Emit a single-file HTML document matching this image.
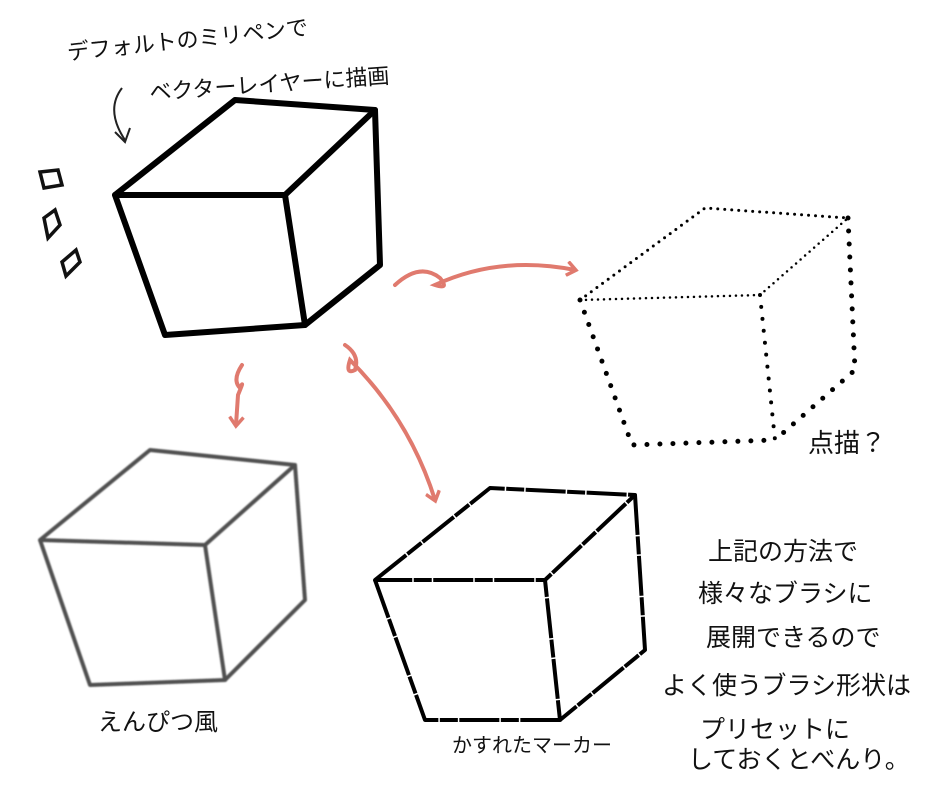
<!DOCTYPE html>
<html><head><meta charset="utf-8"><style>
html,body{margin:0;padding:0;background:#fff;}
svg{display:block;}
text{font-family:"Liberation Sans","Noto Sans CJK JP",sans-serif;fill:#111;}
</style></head><body>
<svg width="940" height="800" viewBox="0 0 940 800" xmlns="http://www.w3.org/2000/svg">
<defs>
<marker id="ah" markerWidth="16" markerHeight="16" refX="9" refY="8" orient="auto" markerUnits="userSpaceOnUse"><path d="M1,1 L10,8 L1,15" fill="none" stroke="#e07a6e" stroke-width="3.5"/></marker>
<filter id="soft"><feGaussianBlur stdDeviation="0.7"/></filter>
</defs>
<!-- top text -->
<text x="68" y="60" font-size="22" transform="rotate(-6 68 60)">デフォルトのミリペンで</text>
<text x="150" y="100" font-size="22" transform="rotate(-4 150 100)">ベクターレイヤーに描画</text>
<path d="M122,88 Q105,110 125,140" fill="none" stroke="#222" stroke-width="2"/>
<path d="M115,132 L125,142 L130,128" fill="none" stroke="#222" stroke-width="2"/>
<!-- small marks -->
<g fill="none" stroke="#111" stroke-width="3.5">
<path d="M40,172 L58,170 L62,185 L44,188 Z"/>
<path d="M44,218 L55,210 L60,225 L48,238 Z"/>
<path d="M62,262 L76,250 L80,262 L66,276 Z"/>
</g>
<!-- main cube -->
<g fill="none" stroke="#000" stroke-width="6" stroke-linejoin="round" stroke-linecap="round">
<path d="M115,195 L235,100 L375,110 L285,195 Z"/>
<path d="M115,195 L165,335 L305,325 L285,195"/>
<path d="M375,110 L380,265 L305,325"/>
</g>
<!-- red arrows -->
<g fill="none" stroke="#e07a6e" stroke-width="4" stroke-linecap="round">
<path d="M395,285 Q420,262 440,278 Q450,290 435,285 Q500,255 575,270" marker-end="url(#ah)"/>
<path d="M242,365 Q232,380 240,388 Q245,378 238,395 L236,425" marker-end="url(#ah)"/>
<path d="M345,345 Q360,355 355,370 Q345,375 350,360 Q410,420 435,500" marker-end="url(#ah)"/>
</g>
<!-- dotted cube -->
<g fill="none" stroke="#000" stroke-linecap="round">
<path d="M580,300 L705,208 L848,218" stroke-width="3" stroke-dasharray="0 7"/>
<path d="M580,300 L760,295 L848,218" stroke-width="2.5" stroke-dasharray="0 6"/>
<path d="M580,300 L632,445 L775,440" stroke-width="5" stroke-dasharray="0 13"/>
<path d="M760,295 L775,440" stroke-width="4" stroke-dasharray="0 12"/>
<path d="M848,218 L855,370 L775,440" stroke-width="5" stroke-dasharray="0 13"/>
</g>
<text x="808" y="452" font-size="26">点描？</text>
<!-- pencil cube -->
<g fill="none" stroke="#333" stroke-width="4" stroke-linejoin="round" opacity="0.85" filter="url(#soft)">
<path d="M40,540 L150,450 L295,465 L205,545 Z"/>
<path d="M40,540 L90,685 L225,680 L205,545"/>
<path d="M295,465 L305,600 L225,680"/>
</g>
<text x="98" y="730" font-size="24">えんぴつ風</text>
<!-- marker cube -->
<g fill="none" stroke="#000" stroke-width="4" stroke-linejoin="round" stroke-dasharray="40 1.5 18 1.5">
<path d="M375,580 L490,488 L635,495 L545,580 Z"/>
<path d="M375,580 L425,720 L560,720 L545,580"/>
<path d="M635,495 L645,650 L560,720"/>
</g>
<text x="452" y="752" font-size="20">かすれたマーカー</text>
<!-- right text -->
<g font-size="25">
<text x="708" y="560">上記の方法で</text>
<text x="698" y="602">様々なブラシに</text>
<text x="706" y="646">展開できるので</text>
<text x="662" y="694">よく使うブラシ形状は</text>
<text x="700" y="738">プリセットに</text>
<text x="688" y="768">しておくとべんり。</text>
</g>
</svg>
</body></html>
